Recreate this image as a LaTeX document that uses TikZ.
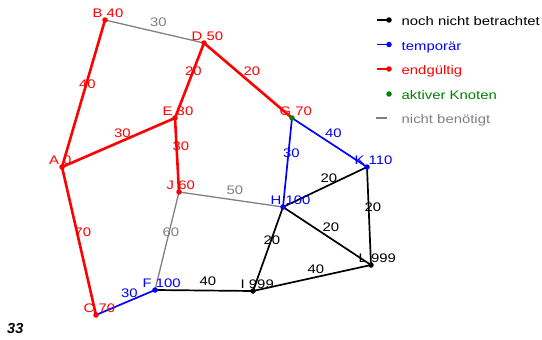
\documentclass[tikz,border=0pt]{standalone}
\usepackage{fontspec}
\setmainfont{Liberation Sans}[FakeStretch=1.2]
\newfontfamily\plainsans{Liberation Sans}
\newcommand{\fsz}{\fontsize{12.4}{14}\selectfont}
\definecolor{gr}{RGB}{0,128,0}
\definecolor{gy}{RGB}{128,128,128}
\tikzset{
  dot/.style={circle, fill, inner sep=0pt, minimum size=5.5pt},
  lab/.style={anchor=base west, inner sep=0pt, font=\fsz},
  elab/.style={midway, xshift=4pt, yshift=9pt, inner sep=0pt, font=\fsz},
  redE/.style={draw=red, text=red, line width=2.6pt},
  blueE/.style={draw=blue, text=blue, line width=1.7pt},
  blackE/.style={draw=black, text=black, line width=1.7pt},
  grayE/.style={draw=gy, text=gy, line width=1.3pt},
  legtext/.style={anchor=base west, inner sep=0pt, font=\fsz},
}
\begin{document}
\begin{tikzpicture}[x=1pt, y=-1pt]
\useasboundingbox (0,0) rectangle (542,340);
% coordinates
\coordinate (A) at (62,167);
\coordinate (B) at (105,20);
\coordinate (C) at (96,315);
\coordinate (D) at (204,43);
\coordinate (E) at (175,118);
\coordinate (F) at (155,290);
\coordinate (G) at (292,118);
\coordinate (H) at (283,207);
\coordinate (I) at (253,291);
\coordinate (J) at (179,192);
\coordinate (K) at (367,167);
\coordinate (L) at (371,265);
% edges
\draw[grayE] (B) -- node[elab]{30} (D);
\draw[grayE] (J) -- node[elab]{50} (H);
\draw[grayE] (F) -- node[elab]{60} (J);
\draw[blackE] (H) -- node[elab]{20} (K);
\draw[blackE] (K) -- node[elab]{20} (L);
\draw[blackE] (H) -- node[elab]{20} (L);
\draw[blackE] (H) -- node[elab]{20} (I);
\draw[blackE] (I) -- node[elab]{40} (L);
\draw[blackE] (F) -- node[elab]{40} (I);
\draw[blueE] (C) -- node[elab]{30} (F);
\draw[blueE] (G) -- node[elab]{30} (H);
\draw[blueE] (G) -- node[elab]{40} (K);
\draw[redE] (A) -- node[elab]{40} (B);
\draw[redE] (D) -- node[elab]{20} (E);
\draw[redE] (D) -- node[elab]{20} (G);
\draw[redE] (A) -- node[elab]{30} (E);
\draw[redE] (E) -- node[elab]{30} (J);
\draw[redE] (A) -- node[elab]{70} (C);
% dots
\foreach \n in {A,B,C,D,E,J} \node[dot, fill=red] (d\n) at (\n) {};
\foreach \n in {F,H,K} \node[dot, fill=blue] (d\n) at (\n) {};
\foreach \n in {I,L} \node[dot, fill=black] (d\n) at (\n) {};
\node[dot, fill=gr] (dG) at (G) {};
% node labels
\node[lab, text=red] (tA) at ([xshift=-13pt, yshift=3pt]A) {A\,\,0};
\node[lab, text=red] (tB) at ([xshift=-12.5pt, yshift=3pt]B) {B 40};
\node[lab, text=red] (tC) at ([xshift=-12.5pt, yshift=3pt]C) {C 70};
\node[lab, text=red] (tD) at ([xshift=-12.5pt, yshift=3pt]D) {D 50};
\node[lab, text=red] (tE) at ([xshift=-12.5pt, yshift=3pt]E) {E 30};
\node[lab, text=red] (tG) at ([xshift=-12.5pt, yshift=3pt]G) {G 70};
\node[lab, text=red] (tJ) at ([xshift=-12.5pt, yshift=3pt]J) {J 60};
\node[lab, text=blue] (tF) at ([xshift=-12.5pt, yshift=3pt]F) {F 100};
\node[lab, text=blue] (tH) at ([xshift=-12.5pt, yshift=3pt]H) {H 100};
\node[lab, text=blue] (tK) at ([xshift=-12.5pt, yshift=3pt]K) {K 110};
\node[lab, text=black] (tI) at ([xshift=-12.5pt, yshift=3pt]I) {I 999};
\node[lab, text=black] (tL) at ([xshift=-12.5pt, yshift=3pt]L) {L 999};
% legend
\coordinate (l1a) at (377,20);  \coordinate (l1b) at (389,20);
\coordinate (l2a) at (377,44.5);  \coordinate (l2b) at (389,44.5);
\coordinate (l3a) at (377,69);  \coordinate (l3b) at (389,69);
\coordinate (l4b) at (389,94);
\coordinate (l5a) at (376,118);  \coordinate (l5b) at (387,118);
\draw[black, line width=1.7pt] (l1a) -- (l1b);
\node[dot, fill=black] (ld1) at (l1b) {};
\draw[blue, line width=1.7pt] (l2a) -- (l2b);
\node[dot, fill=blue] (ld2) at (l2b) {};
\draw[red, line width=1.7pt] (l3a) -- (l3b);
\node[dot, fill=red] (ld3) at (l3b) {};
\node[dot, fill=gr] (ld4) at (l4b) {};
\draw[gy, line width=1.5pt] (l5a) -- (l5b);
\node[legtext, text=black] (lt1) at (401.5,25.7) {noch nicht betrachtet};
\node[legtext, text=blue] (lt2) at (401.5,50.2) {temporär};
\node[legtext, text=red] (lt3) at (401.5,74.7) {endgültig};
\node[legtext, text=gr] (lt4) at (401.5,99.7) {aktiver Knoten};
\node[legtext, text=gy] (lt5) at (401.5,123.7) {nicht benötigt};
% page number
\node[anchor=base west, inner sep=0pt, font=\plainsans\bfseries\itshape\fontsize{14.5}{16}\selectfont] (num) at (7,333) {33};
\end{tikzpicture}
\end{document}
